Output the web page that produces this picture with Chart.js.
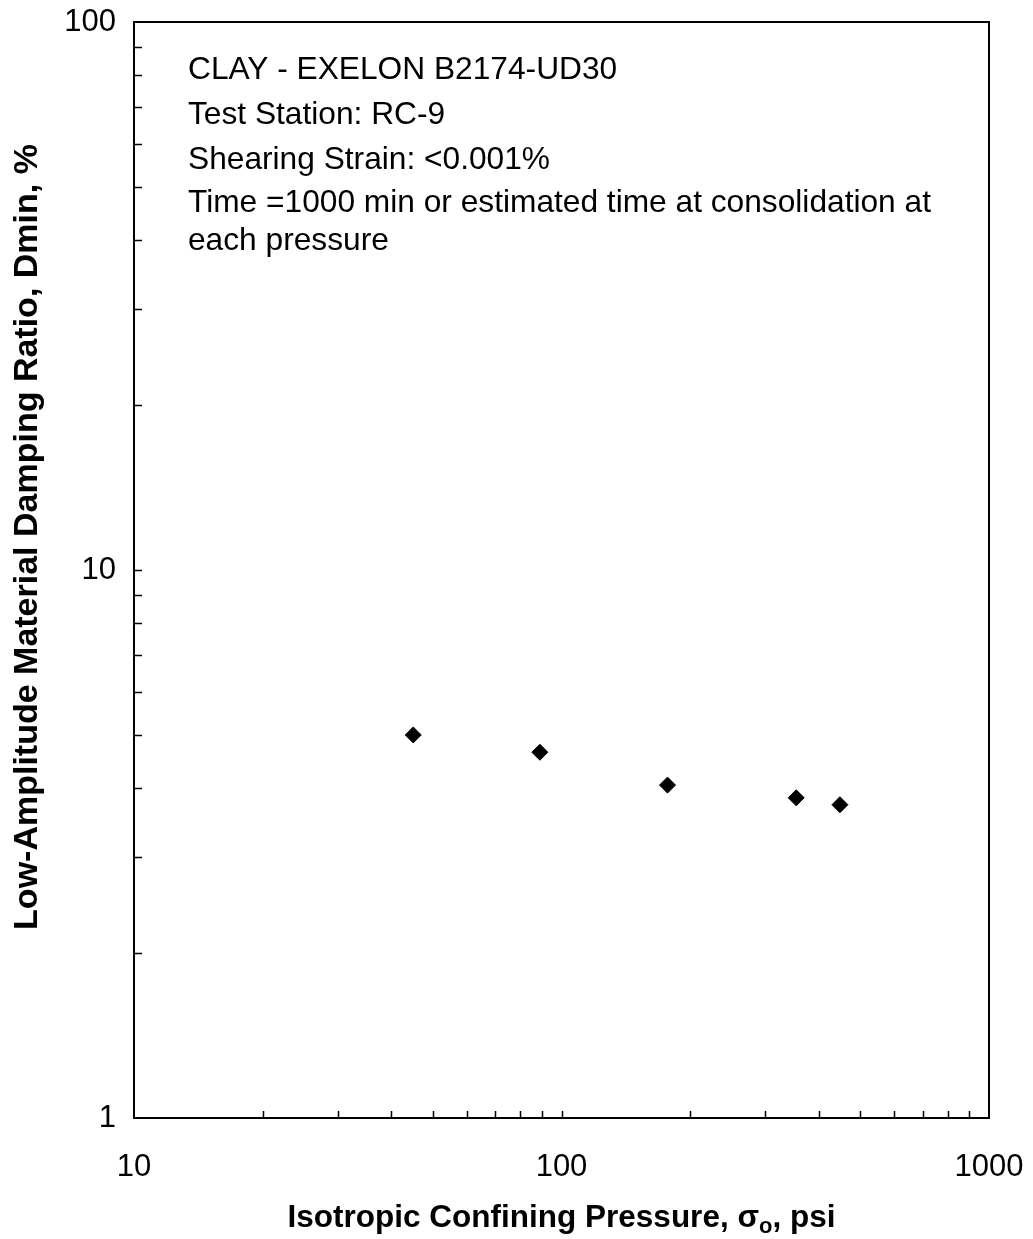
<!DOCTYPE html>
<html><head><meta charset="utf-8">
<script src="https://cdn.jsdelivr.net/npm/chart.js@4/dist/chart.umd.min.js"></script>
<style>html,body{margin:0;padding:0;background:#fff}#wrap{width:1033px;height:1239px}</style>
</head><body><div id="wrap"><canvas id="c" width="1033" height="1239"></canvas></div>
<script>
// ---- data ----
const pressures = [45, 89, 177, 354, 448];
const damping = [5.0, 4.65, 4.05, 3.84, 3.73];
const xTickLabels = [10, 100, 1000];
const yTickLabels = [1, 10, 100];
const noteLines = [
  "CLAY - EXELON B2174-UD30",
  "Test Station: RC-9",
  "Shearing Strain: <0.001%",
  "Time =1000 min or estimated time at consolidation at",
  "each pressure"
];
const xTitleParts = ["Isotropic Confining Pressure, σ", "o", ", psi"];
const yTitle = "Low-Amplitude Material Damping Ratio, Dmin, %";

function logTicks(min, max) {
  const out = [];
  for (let d = min; d < max; d *= 10) {
    for (let m = 1; m < 10; m++) out.push({ value: m * d });
  }
  out.push({ value: max });
  return out;
}

const FONT = '"Liberation Sans", Arial, sans-serif';

const decorPlugin = {
  id: 'decor',
  afterDraw(chart) {
    const ctx = chart.ctx;
    const a = chart.chartArea;
    const xs = chart.scales.x, ys = chart.scales.y;
    ctx.save();
    ctx.strokeStyle = '#000';
    ctx.lineWidth = 1.5;
    ctx.beginPath();
    xs.ticks.forEach(t => {
      const px = Math.round(xs.getPixelForValue(t.value)) + 0.5;
      if (px <= a.left + 1 || px >= a.right - 1) return;
      ctx.moveTo(px, a.bottom);
      ctx.lineTo(px, a.bottom - 7);
    });
    ys.ticks.forEach(t => {
      const py = Math.round(ys.getPixelForValue(t.value)) + 0.5;
      if (py <= a.top + 1 || py >= a.bottom - 1) return;
      ctx.moveTo(a.left, py);
      ctx.lineTo(a.left + 8, py);
    });
    ctx.stroke();
    ctx.lineWidth = 2;
    ctx.strokeRect(a.left, a.top, a.right - a.left, a.bottom - a.top);

    ctx.fillStyle = '#000';
    ctx.font = '31.7px ' + FONT;
    ctx.textAlign = 'left';
    ctx.textBaseline = 'middle';
    const lineY = [70, 115, 160, 203, 241];
    noteLines.forEach((s, i) => ctx.fillText(s, 188, lineY[i]));

    const bigF = 'bold 31.5px ' + FONT, subF = 'bold 22px ' + FONT;
    ctx.font = bigF; const w0 = ctx.measureText(xTitleParts[0]).width;
    const w2 = ctx.measureText(xTitleParts[2]).width;
    ctx.font = subF; const w1 = ctx.measureText(xTitleParts[1]).width;
    const total = w0 + w1 + w2;
    const x0 = (a.left + a.right) / 2 - total / 2;
    const ty = 1218;
    ctx.font = bigF; ctx.fillText(xTitleParts[0], x0, ty);
    ctx.font = subF; ctx.fillText(xTitleParts[1], x0 + w0, ty + 9);
    ctx.font = bigF; ctx.fillText(xTitleParts[2], x0 + w0 + w1, ty);

    ctx.translate(28, 537);
    ctx.rotate(-Math.PI / 2);
    ctx.textAlign = 'center';
    ctx.font = 'bold 34px ' + FONT;
    ctx.fillText(yTitle, 0, 0);
    ctx.restore();
  }
};

function noPad(s) { s.paddingTop = 0; s.paddingBottom = 0; s.paddingLeft = 0; s.paddingRight = 0; }

new Chart(document.getElementById('c'), {
  type: 'scatter',
  data: {
    datasets: [{
      data: pressures.map((p, i) => ({ x: p, y: damping[i] })),
      pointStyle: 'rectRot',
      pointRadius: 8,
      backgroundColor: '#000',
      borderColor: '#000',
      borderWidth: 1
    }]
  },
  options: {
    responsive: false,
    animation: false,
    devicePixelRatio: 1,
    layout: { padding: { top: 22, right: 44, left: 0, bottom: 0 } },
    plugins: { legend: { display: false }, tooltip: { enabled: false } },
    scales: {
      x: {
        type: 'logarithmic',
        min: xTickLabels[0], max: xTickLabels[xTickLabels.length - 1],
        afterBuildTicks: s => { s.ticks = logTicks(s.min, s.max); },
        afterFit: s => { s.height = 121; noPad(s); },
        grid: { display: false, drawTicks: false },
        border: { display: false },
        ticks: {
          autoSkip: false, maxRotation: 0, padding: 31, color: '#000',
          font: { family: FONT, size: 31 },
          callback: v => xTickLabels.includes(v) ? String(v) : ''
        }
      },
      y: {
        type: 'logarithmic',
        min: yTickLabels[0], max: yTickLabels[yTickLabels.length - 1],
        afterBuildTicks: s => { s.ticks = logTicks(s.min, s.max); },
        afterFit: s => { s.width = 134; noPad(s); },
        grid: { display: false, drawTicks: false },
        border: { display: false },
        ticks: {
          autoSkip: false, padding: 18, color: '#000',
          font: { family: FONT, size: 31 },
          callback: v => yTickLabels.includes(v) ? String(v) : ''
        }
      }
    }
  },
  plugins: [decorPlugin]
});
</script>
</body></html>
